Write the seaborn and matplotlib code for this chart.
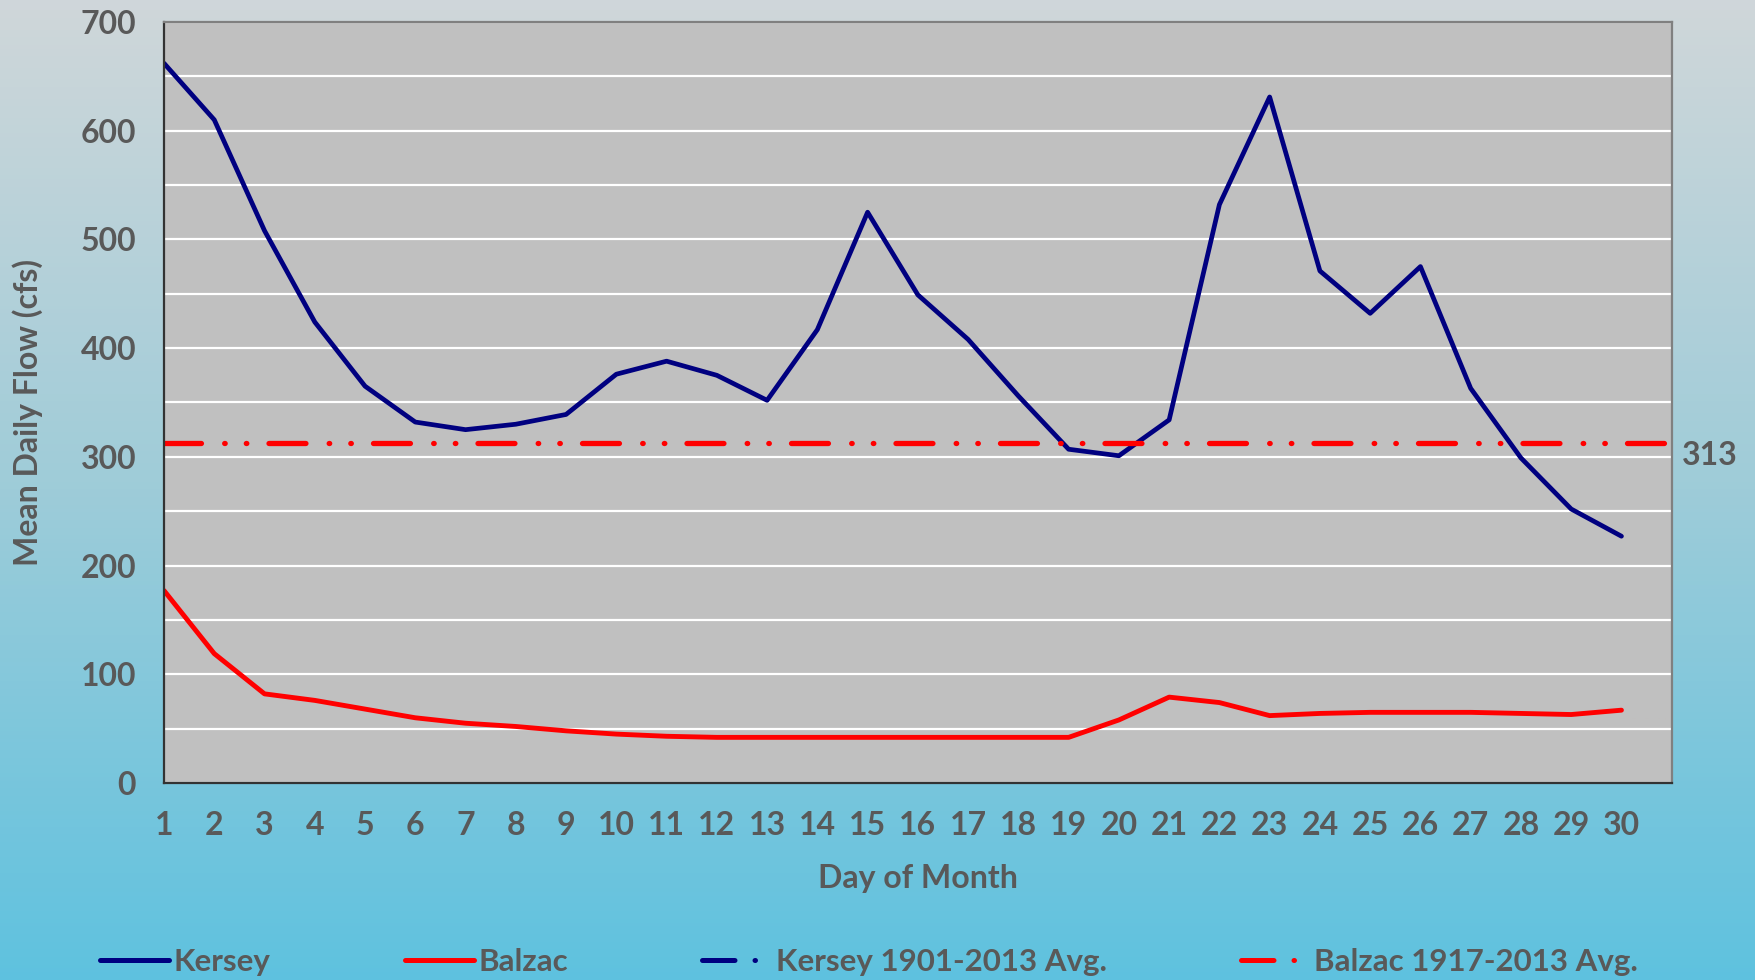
import numpy as np
import pandas as pd
import matplotlib
matplotlib.use("Agg")
import matplotlib.pyplot as plt
from matplotlib.lines import Line2D
from matplotlib.ticker import MultipleLocator
import seaborn as sns

# daily mean flow, cfs
days = list(range(1, 31))
kersey = [662, 610, 508, 424, 365, 332, 325, 330, 339, 376,
          388, 375, 352, 417, 525, 449, 408, 356, 307, 301,
          334, 532, 631, 471, 432, 475, 363, 299, 252, 227]
balzac = [177, 119, 82, 76, 68, 60, 55, 52, 48, 45,
          43, 42, 42, 42, 42, 42, 42, 42, 42, 58,
          79, 74, 62, 64, 65, 65, 65, 64, 63, 67]
balzac_avg = 313
x_ticks = list(range(1, 32))
x_ticklabels = [str(d) for d in days] + [""]

df = pd.DataFrame({"day": days, "Kersey": kersey, "Balzac": balzac})

sns.set_style("white")
plt.rcParams['font.family'] = ['Lato', 'DejaVu Sans']
plt.rcParams['font.weight'] = 'bold'

text_col = '#595959'
navy = '#000080'
red = '#ff0000'
avg_dash = (0, (7.0, 4.4, 0.1, 4.0, 0.1, 4.2))
fs = 23

fig = plt.figure(figsize=(17.56, 9.8), dpi=100)

# gradient background
bg = fig.add_axes([0, 0, 1, 1], zorder=-10)
top = np.array([0.815, 0.843, 0.855])
mid = np.array([0.62, 0.80, 0.85])
bot = np.array([0.37, 0.76, 0.875])
t = np.linspace(0, 1, 256)[:, None]
grad = np.where(t < 0.5, top + (mid - top) * (t / 0.5), mid + (bot - mid) * ((t - 0.5) / 0.5))
bg.imshow(grad[:, None, :], aspect='auto', extent=[0, 1, 0, 1], origin='upper')
bg.axis('off')

ax = fig.add_axes([0.0934, 0.201, 0.8586, 0.7766])
ax.set_facecolor('#c0c0c0')

sns.lineplot(data=df, x='day', y='Kersey', ax=ax, color=navy, lw=3.4, label='Kersey', legend=False)
sns.lineplot(data=df, x='day', y='Balzac', ax=ax, color=red, lw=3.5, label='Balzac', legend=False)
ax.axhline(balzac_avg, color=red, lw=3.8, linestyle=avg_dash, dash_capstyle='round')

ax.set_xlim(1, 31)
ax.set_ylim(0, 700)
ax.set_xticks(x_ticks)
ax.set_xticklabels(x_ticklabels)
ax.yaxis.set_major_locator(MultipleLocator(100))
ax.yaxis.set_minor_locator(MultipleLocator(50))
ax.grid(which='both', axis='y', color='white', lw=1.6)
ax.grid(axis='x', visible=False)
ax.set_axisbelow(True)

ax.tick_params(axis='both', which='major', direction='out', length=7, width=1.2,
               color='#222222', labelsize=fs, labelcolor=text_col, pad=13)
ax.tick_params(axis='y', which='minor', length=0)
for lab in ax.get_xticklabels() + ax.get_yticklabels():
    lab.set_fontweight('bold')

for side in ['left', 'bottom']:
    ax.spines[side].set_color('#333333')
    ax.spines[side].set_linewidth(1.6)
for side in ['top', 'right']:
    ax.spines[side].set_color('#808080')
    ax.spines[side].set_linewidth(1.6)

ax.set_xlabel('Day of Month', fontsize=fs, color=text_col, fontweight='bold')
ax.xaxis.set_label_coords(0.5, -0.106)
ax.set_ylabel('Mean Daily Flow (cfs)', fontsize=fs, color=text_col, fontweight='bold')
ax.yaxis.set_label_coords(-0.080, 0.487)

ax.annotate(str(balzac_avg), xy=(1.0, balzac_avg), xycoords=('axes fraction', 'data'),
            xytext=(7, -9), textcoords='offset points', ha='left', va='center',
            fontsize=fs, color=text_col, fontweight='bold', annotation_clip=False)

handles = [
    Line2D([], [], color=navy, lw=3.6),
    Line2D([], [], color=red, lw=3.6),
    Line2D([], [], color=navy, lw=3.6, linestyle=(0, (6.5, 4.0, 0.1, 4.0)), dash_capstyle='round'),
    Line2D([], [], color=red, lw=3.6, linestyle=(0, (6.5, 4.0, 0.1, 4.0)), dash_capstyle='round'),
]
labels = ['Kersey', 'Balzac', 'Kersey 1901-2013 Avg.', 'Balzac 1917-2013 Avg.']
leg = fig.legend(handles, labels, loc='center left', bbox_to_anchor=(0.057, 0.018),
                 ncol=4, frameon=False, handlelength=2.2, handletextpad=0.15,
                 columnspacing=4.3, borderpad=0, borderaxespad=0,
                 prop={'weight': 'bold', 'size': 22.5})
for txt in leg.get_texts():
    txt.set_color(text_col)

fig.savefig('out.png', dpi=100)
